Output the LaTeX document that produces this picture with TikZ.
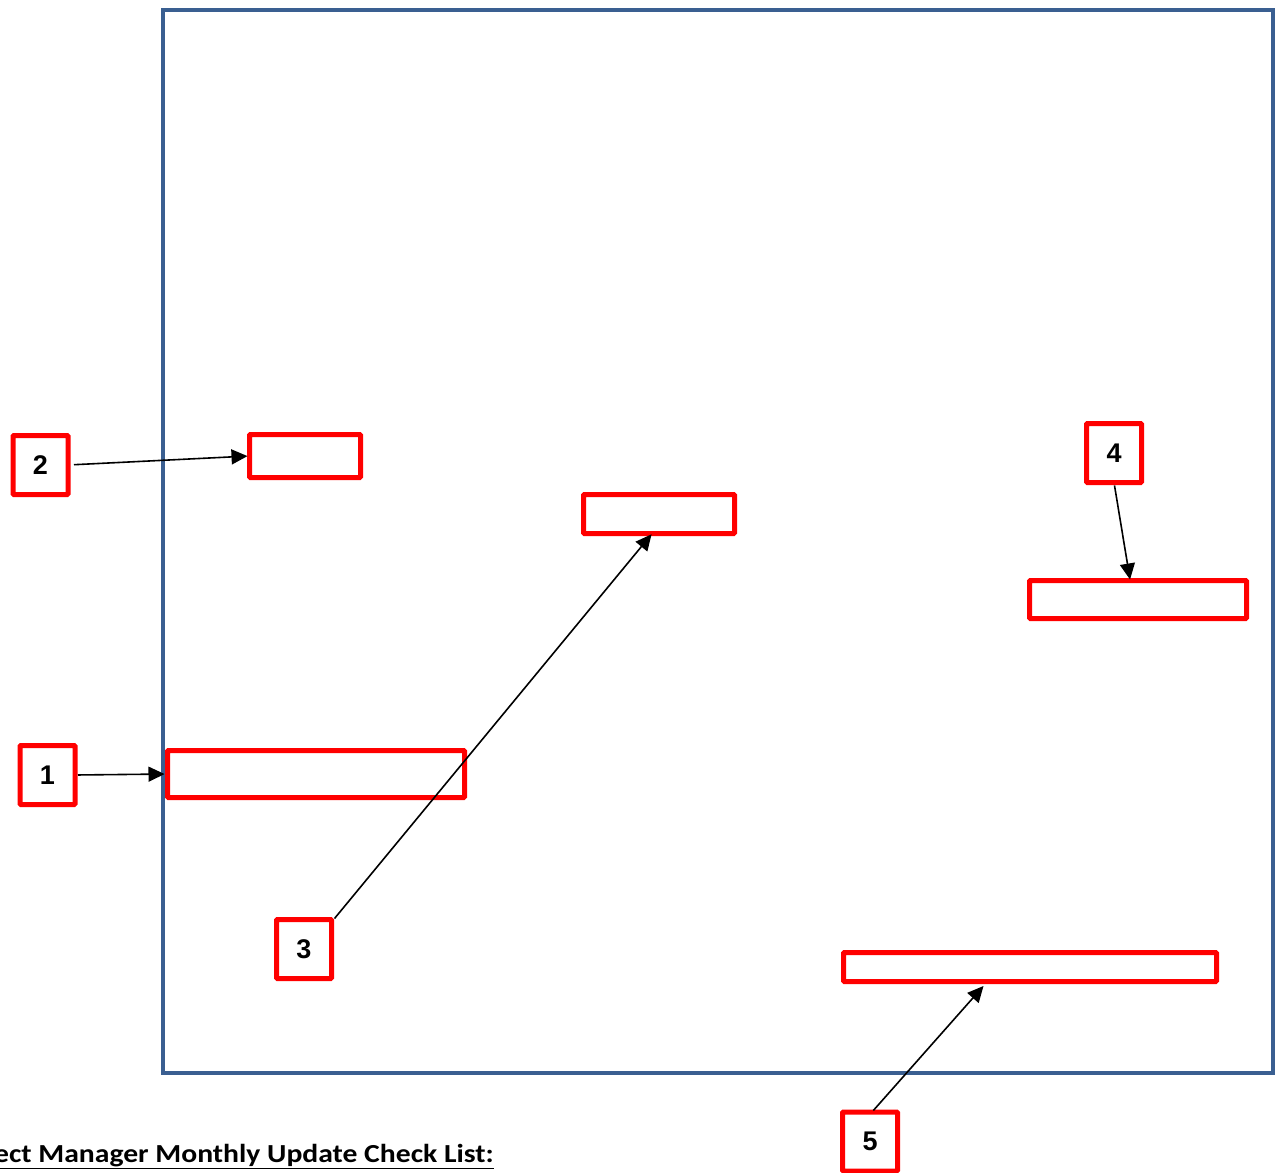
\documentclass[tikz,border=0pt]{standalone}
\usepackage{fontspec}
\newfontfamily\numfont{Liberation Sans}
\newfontfamily\titlefont{Carlito}
\usetikzlibrary{arrows.meta,calc}
\definecolor{framblue}{RGB}{58,95,145}
\definecolor{boxred}{RGB}{255,0,0}
\tikzset{
  numbox/.style={draw=boxred, line width=5pt, rounded corners=1pt, inner sep=0pt, outer sep=0pt,
    minimum width=55pt, minimum height=59pt, font=\numfont\bfseries\fontsize{27}{31}\selectfont},
  slot/.style={draw=boxred, line width=5pt, rounded corners=1pt, inner sep=0pt, outer sep=0pt},
  arr/.style={line width=1.6pt, -{Triangle[length=16pt,width=15pt]}},
}
\begin{document}
\begin{tikzpicture}[x=1pt,y=-1pt]
\useasboundingbox (0,0) rectangle (1279,1172);
\draw[framblue, line width=4pt] (163,10) rectangle (1273,1073);
% target slots
\node[slot, minimum width=111pt, minimum height=43pt] (A) at (305,456) {};
\node[slot, minimum width=151pt, minimum height=39pt] (B) at (659,514) {};
\node[slot, minimum width=217pt, minimum height=38pt] (C) at (1138,599.5) {};
\node[slot, minimum width=297pt, minimum height=47pt] (D) at (316,774) {};
\node[slot, minimum width=373pt, minimum height=29pt] (E) at (1030,967) {};
% number boxes
\node[numbox] (n1) at (47.5,775) {1};
\node[numbox] (n2) at (40.5,465) {2};
\node[numbox] (n3) at (304,949) {3};
\node[numbox] (n4) at (1114,453) {4};
\node[numbox] (n5) at (870,1141.5) {5};
% arrows
\draw[arr, shorten <=3pt, shorten >=3pt] (n1.east) -- (D.west);
\draw[arr, shorten <=6pt, shorten >=2pt] (n2.east) -- (A.west);
\draw[arr, shorten >=1pt] ($(n3.north east)+(3,-1)$) -- ($(B.south west)!0.455!(B.south east)$);
\draw[arr, shorten <=3pt, shorten >=1pt] (n4.south) -- ($(C.north west)!0.464!(C.north east)$);
\draw[arr, shorten <=2pt, shorten >=6pt] ($(n5.north)+(2,0)$) -- ($(E.south west)!0.386!(E.south east)$);
% title
\node[anchor=base east, inner sep=0pt, font=\titlefont\bfseries\fontsize{26}{30}\selectfont] (title) at (494,1162) {\scalebox{1.14}[1]{\underline{Project Manager Monthly Update Check List:}}};
\end{tikzpicture}
\end{document}
